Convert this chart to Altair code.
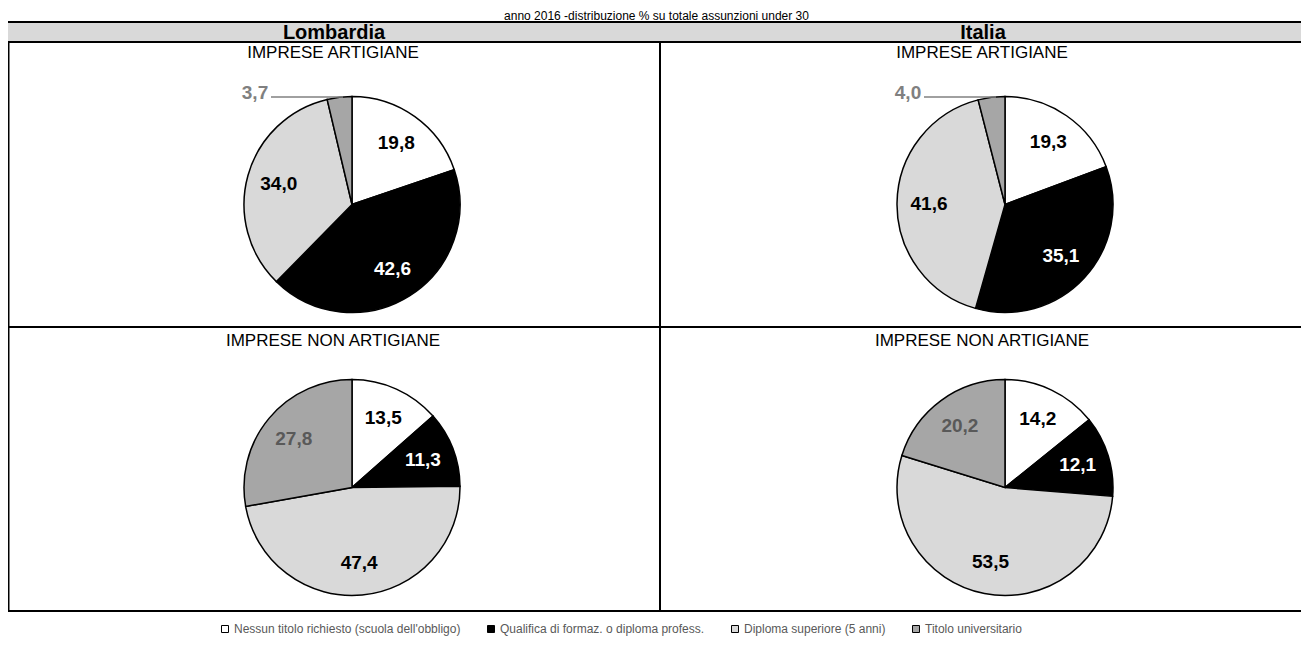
import altair as alt
import pandas as pd

# ---------------- data ----------------
title_text = "anno 2016 -distribuzione % su totale assunzioni under 30"
regions = ["Lombardia", "Italia"]
firm_types = ["IMPRESE ARTIGIANE", "IMPRESE NON ARTIGIANE"]
categories = [
    "Nessun titolo richiesto (scuola dell'obbligo)",
    "Qualifica di formaz. o diploma profess.",
    "Diploma superiore (5 anni)",
    "Titolo universitario",
]
lombardia_artigiane = [19.8, 42.6, 34.0, 3.7]
italia_artigiane = [19.3, 35.1, 41.6, 4.0]
lombardia_non_artigiane = [13.5, 11.3, 47.4, 27.8]
italia_non_artigiane = [14.2, 12.1, 53.5, 20.2]

panel_values = {
    ("Lombardia", "IMPRESE ARTIGIANE"): lombardia_artigiane,
    ("Italia", "IMPRESE ARTIGIANE"): italia_artigiane,
    ("Lombardia", "IMPRESE NON ARTIGIANE"): lombardia_non_artigiane,
    ("Italia", "IMPRESE NON ARTIGIANE"): italia_non_artigiane,
}

rows = []
for (reg, firm), vals in panel_values.items():
    for i, (c, v) in enumerate(zip(categories, vals)):
        rows.append(dict(region=reg, firm=firm, cat=c, idx=i, value=v,
                         label=f"{v:.1f}".replace(".", ",")))
df = pd.DataFrame(rows)

# ---------------- styling / layout ----------------
FONT = "Liberation Sans, Arial, sans-serif"
slice_colors = ["#ffffff", "#000000", "#d9d9d9", "#a6a6a6"]
W, H = 1293, 637
R = 108
col_line = 652
col_center = [326, 975]
pie_cx = [344, 997]
pie_cy = [196.5, 479.5]
sub_y = [45, 333]
band_top, band_bottom = 14, 34

base = alt.Chart(df)
one = alt.Chart(pd.DataFrame({"k": [0]}))

layers = []

# header band
layers.append(one.mark_rect(fill="#d9d9d9").encode(
    x=alt.value(0), x2=alt.value(W), y=alt.value(band_top), y2=alt.value(band_bottom)))

# table lines
for yy in [band_top, band_bottom, 319, 603]:
    layers.append(one.mark_rule(color="black", strokeWidth=2).encode(
        x=alt.value(0), x2=alt.value(W), y=alt.value(yy)))
for xx in [0.5, col_line]:
    layers.append(one.mark_rule(color="black", strokeWidth=2).encode(
        x=alt.value(xx), y=alt.value(band_bottom), y2=alt.value(603)))

# title
layers.append(one.mark_text(font=FONT, fontSize=12, color="black", baseline="alphabetic").encode(
    x=alt.value(W / 2 + 2), y=alt.value(11.5), text=alt.value(title_text)))

# region headers
for i, reg in enumerate(regions):
    layers.append(one.mark_text(font=FONT, fontSize=20, fontWeight="bold", color="black",
                                baseline="middle").encode(
        x=alt.value(col_center[i]), y=alt.value(24.5), text=alt.value(reg)))

# firm-type subtitles
for i, reg in enumerate(regions):
    for j, firm in enumerate(firm_types):
        layers.append(one.mark_text(font=FONT, fontSize=17, color="black", baseline="middle").encode(
            x=alt.value(col_center[i] - 1), y=alt.value(sub_y[j]), text=alt.value(firm)))

legend = alt.Legend(
    orient="none", legendX=211, legendY=615, direction="horizontal", title=None,
    symbolType="square", symbolSize=49, symbolStrokeColor="black", symbolStrokeWidth=1,
    labelFont=FONT, labelFontSize=12, labelColor="#595959", labelLimit=500,
    labelOffset=3, columnPadding=24)

for i, reg in enumerate(regions):
    for j, firm in enumerate(firm_types):
        cx, cy = pie_cx[i], pie_cy[j]
        sub = base.transform_filter(
            (alt.datum.region == reg) & (alt.datum.firm == firm))
        layers.append(sub.mark_arc(outerRadius=R, stroke="black", strokeWidth=1.5).encode(
            theta=alt.Theta("value:Q", stack="normalize"),
            color=alt.Color("cat:N", scale=alt.Scale(domain=categories, range=slice_colors),
                            legend=legend),
            order=alt.Order("idx:Q"),
            x=alt.value(cx), y=alt.value(cy)))
        layers.append(sub.transform_calculate(
            inlabel="datum.value >= 5 ? datum.label : ''",
            tcol="datum.idx == 1 ? '#ffffff' : (datum.idx == 3 ? '#595959' : '#000000')",
        ).mark_text(radius=76, font=FONT, fontSize=19, fontWeight="bold",
                    align="center", baseline="middle").encode(
            theta=alt.Theta("value:Q", stack="normalize"),
            order=alt.Order("idx:Q"),
            detail="cat:N",
            text="inlabel:N",
            color=alt.Color("tcol:N", scale=None),
            x=alt.value(cx), y=alt.value(cy)))
        # callout for small slices
        small = sub.transform_filter(alt.datum.value < 5)
        layers.append(small.mark_rule(color="#808080", strokeWidth=1.5).encode(
            x=alt.value(cx - 81), x2=alt.value(cx - 9), y=alt.value(cy - 107.5)))
        layers.append(small.mark_text(font=FONT, fontSize=19, fontWeight="bold", color="#808080",
                                      align="center", baseline="middle").encode(
            x=alt.value(cx - 97), y=alt.value(cy - 111.5), text="label:N"))

chart = alt.layer(*layers).properties(
    width=W, height=H, padding=0,
    autosize=alt.AutoSizeParams(type="none"),
).configure_view(strokeWidth=0)

chart.save("out.html", embed_options={"renderer": "svg", "actions": False})
